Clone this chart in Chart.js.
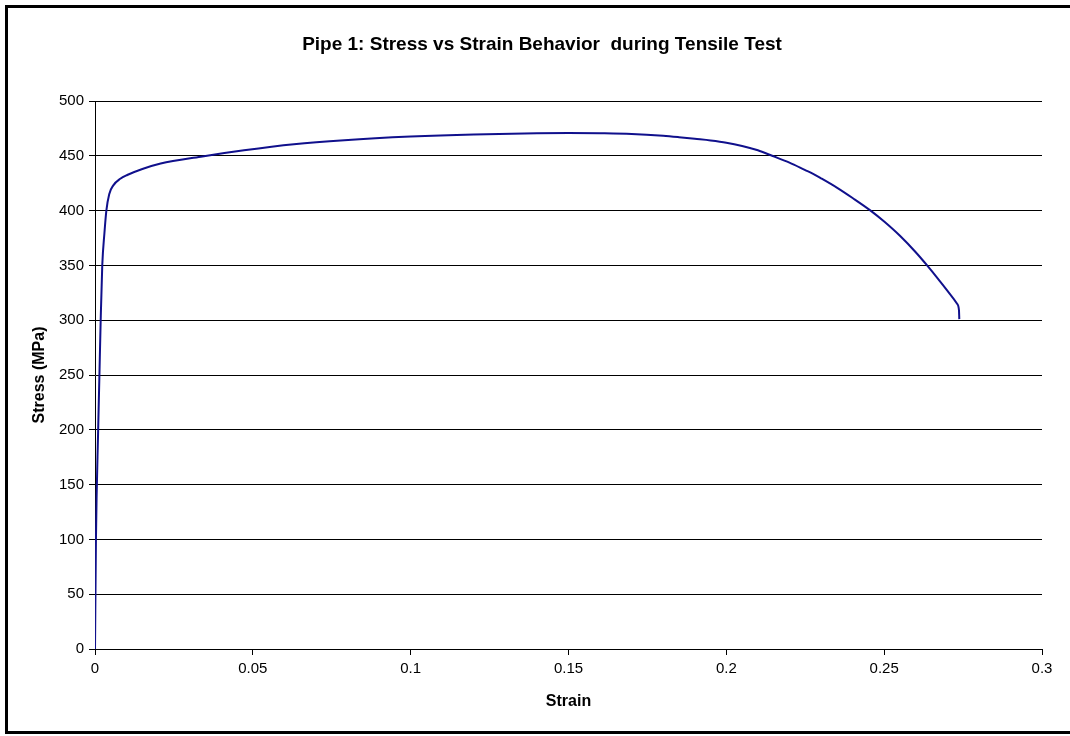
<!DOCTYPE html>
<html>
<head>
<meta charset="utf-8">
<script src="https://cdn.jsdelivr.net/npm/chart.js@4/dist/chart.umd.min.js"></script>
<style>
  html, body { margin: 0; padding: 0; background: #fff; }
  #wrap { width: 1070px; height: 736px; position: relative; }
</style>
</head>
<body>
<div id="wrap"><canvas id="c" width="1070" height="736"></canvas></div>
<script>
// Tensile test readings for pipe 1
const strain = [0, 0.0003, 0.0010, 0.0014, 0.0018, 0.0023, 0.0030, 0.0036, 0.0045, 0.0058, 0.0080, 0.0102, 0.0150, 0.0208, 0.0335, 0.0472, 0.0630, 0.0790, 0.1000, 0.1200, 0.1400, 0.1500, 0.1600, 0.1700, 0.1800, 0.1850, 0.1900, 0.1950, 0.2000, 0.2050, 0.2100, 0.2145, 0.2200, 0.2250, 0.2272, 0.2300, 0.2350, 0.2400, 0.2457, 0.2500, 0.2550, 0.2600, 0.2636, 0.2670, 0.2700, 0.2731, 0.2737, 0.2738];
const stress = [0, 100, 200, 250, 300, 350, 380, 400, 415, 423, 429, 432.5, 438, 443, 449.2, 455, 460.5, 464.2, 467.5, 469.5, 470.6, 470.8, 470.6, 470, 468.3, 467, 465.5, 464, 462, 459, 455, 450, 443.8, 437, 434, 429.5, 421, 411.5, 400, 390, 377, 362, 350, 338, 327, 315, 309, 301];
const xTicks = [0, 0.05, 0.1, 0.15, 0.2, 0.25, 0.3];
const yTicks = [0, 50, 100, 150, 200, 250, 300, 350, 400, 450, 500];
const chartTitle = 'Pipe 1: Stress vs Strain Behavior  during Tensile Test';
const xTitle = 'Strain';
const yTitle = 'Stress (MPa)';

const points = strain.map((x, i) => ({ x: x, y: stress[i] }));
const FONT = 'Arial, "Liberation Sans", sans-serif';

// white page, outer frame and heading
const framePlugin = {
  id: 'frame',
  beforeDraw(chart) {
    const ctx = chart.ctx;
    ctx.save();
    ctx.fillStyle = '#fff';
    ctx.fillRect(0, 0, chart.width, chart.height);
    ctx.strokeStyle = '#000';
    ctx.lineWidth = 3;
    ctx.strokeRect(6.5, 6.5, 1075, 726);
    ctx.fillStyle = '#000';
    ctx.font = 'bold 19px ' + FONT;
    ctx.textAlign = 'center';
    ctx.textBaseline = 'middle';
    ctx.fillText(chartTitle, 542, 45);
    ctx.restore();
  }
};

new Chart(document.getElementById('c'), {
  type: 'scatter',
  data: {
    datasets: [{
      data: points,
      showLine: true,
      borderColor: '#10108c',
      borderWidth: 2,
      pointRadius: 0,
      pointHoverRadius: 0,
      cubicInterpolationMode: 'monotone',
      fill: false
    }]
  },
  options: {
    responsive: false,
    animation: false,
    events: [],
    layout: { padding: { left: 8, right: 28, top: 101, bottom: 7 } },
    plugins: {
      legend: { display: false },
      title: { display: false },
      tooltip: { enabled: false }
    },
    scales: {
      x: {
        type: 'linear',
        min: 0, max: 0.3,
        afterFit(s) { s.height = 80; },
        afterBuildTicks(s) { s.ticks = xTicks.map(v => ({ value: v })); },
        border: { display: true, color: '#000', width: 1 },
        grid: { drawOnChartArea: false, drawTicks: true, tickLength: 6, color: '#000' },
        ticks: {
          color: '#000', font: { family: FONT, size: 15 }, padding: 5,
          maxRotation: 0, autoSkip: false,
          callback: v => String(v)
        },
        title: {
          display: true, text: xTitle, color: '#000',
          font: { family: FONT, size: 16, weight: 'bold' },
          padding: { top: 0, bottom: 18 }
        }
      },
      y: {
        type: 'linear',
        min: 0, max: 500,
        afterFit(s) { s.width = 87; },
        afterBuildTicks(s) { s.ticks = yTicks.map(v => ({ value: v })); },
        border: { display: true, color: '#000', width: 1 },
        grid: { drawOnChartArea: true, drawTicks: true, tickLength: 6, color: '#000', lineWidth: 1 },
        ticks: {
          color: '#000', font: { family: FONT, size: 15 }, padding: 5,
          autoSkip: false,
          callback: v => String(v)
        },
        title: {
          display: true, text: yTitle, color: '#000',
          font: { family: FONT, size: 16, weight: 'bold' },
          padding: { top: 22, bottom: 0 }
        }
      }
    }
  },
  plugins: [framePlugin]
});
</script>
</body>
</html>
